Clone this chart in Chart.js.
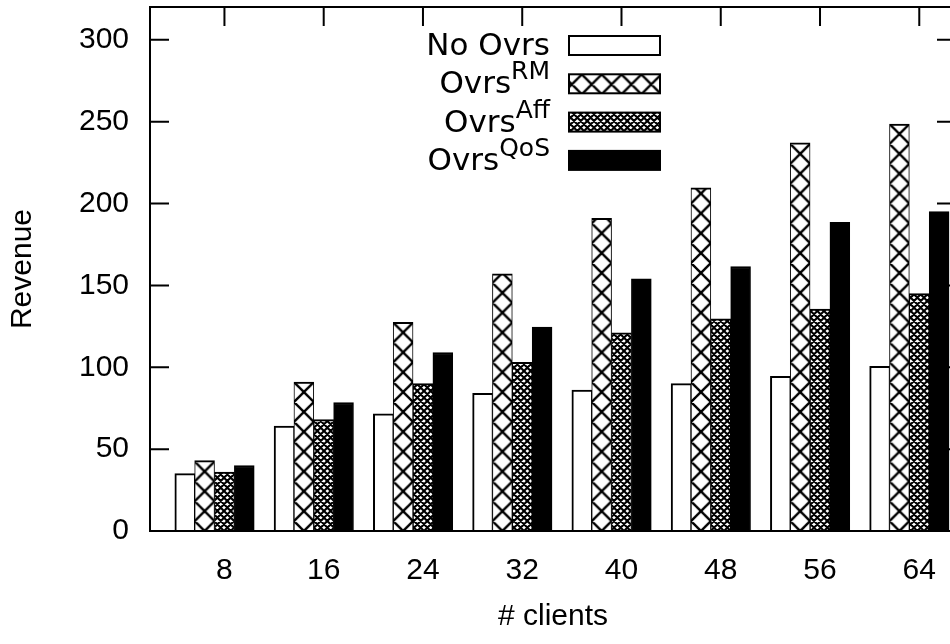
<!DOCTYPE html>
<html>
<head>
<meta charset="utf-8">
<script src="https://cdn.jsdelivr.net/npm/chart.js@4.4.1/dist/chart.umd.min.js"></script>
<style>
  html, body { margin: 0; padding: 0; background: #fff; overflow: hidden; }
  #wrap { width: 960px; height: 644px; }
</style>
</head>
<body>
<div id="wrap"><canvas id="c" width="960" height="644"></canvas></div>
<script>
// Revenue per number of clients, four overbooking strategies
const clients  = ['8', '16', '24', '32', '40', '48', '56', '64'];
const noOvrs   = [35, 64, 71.5, 84, 86, 90, 94.5, 100.5];
const ovrsRM   = [43, 91, 127.5, 157, 191, 209.5, 237, 248.5];
const ovrsAff  = [36, 68, 90, 103, 121, 129.5, 135.5, 145];
const ovrsQoS  = [40, 78.5, 109, 124.5, 154, 161.5, 188.5, 195];
const yTicks   = [0, 50, 100, 150, 200, 250, 300];
const seriesBase = ['No Ovrs', 'Ovrs', 'Ovrs', 'Ovrs'];
const seriesSup  = ['', 'RM', 'Aff', 'QoS'];

const series = [noOvrs, ovrsRM, ovrsAff, ovrsQoS];
// clustered histogram: one slot per bar plus one slot of gap per cluster
const slot = 1 / (series.length + 1);
const anchor = Math.floor(series.length / 2);

// crosshatch tiles (20px square)
const TILE = 20;
function hatch(periods, lw) {
  const c = document.createElement('canvas');
  c.width = TILE; c.height = TILE;
  const g = c.getContext('2d');
  g.fillStyle = '#fff';
  g.fillRect(0, 0, TILE, TILE);
  g.strokeStyle = '#000';
  g.lineWidth = lw;
  const p = TILE / periods;
  g.beginPath();
  for (let k = -2 * periods; k <= 3 * periods; k++) {
    const o = k * p;
    g.moveTo(o - 2 * TILE, -2 * TILE); g.lineTo(o + 2 * TILE, 2 * TILE);
    g.moveTo(o - 2 * TILE, 2 * TILE);  g.lineTo(o + 2 * TILE, -2 * TILE);
  }
  g.stroke();
  return g.createPattern(c, 'repeat');
}
const patRM  = hatch(1, 2.4);
const patAff = hatch(3, 2.1);

const fills = ['#ffffff', patRM, patAff, '#000000'];
const borders = [
  { top: 2, left: 2, right: 1, bottom: 0 },
  { top: 2, left: 1, right: 1, bottom: 0 },
  { top: 2, left: 1, right: 1, bottom: 0 },
  { top: 2, left: 1, right: 1, bottom: 0 }
];

const datasets = series.map((vals, k) => ({
  label: seriesBase[k] + (seriesSup[k] ? '^' + seriesSup[k] : ''),
  data: vals.map((v, i) => ({ x: i + (k - anchor) * slot, y: v })),
  backgroundColor: fills[k],
  borderColor: '#000',
  borderWidth: borders[k],
  grouped: false,
  barPercentage: 1,
  categoryPercentage: 1
}));

const TICK_LEN = 19;

// inward tick marks on all four sides, drawn underneath the bars
const tickMarks = {
  id: 'tickMarks',
  beforeDatasetsDraw(chart) {
    const { ctx, chartArea: a, scales: { x, y } } = chart;
    // the wide hatch follows the bar width; the dense one is only shifted
    const w = x.getPixelForValue(slot) - x.getPixelForValue(0);
    const s = w / TILE;
    patRM.setTransform(new DOMMatrix([s, 0, 0, s, x.getPixelForValue((1 - anchor) * slot), a.bottom]));
    patAff.setTransform(new DOMMatrix([1, 0, 0, 1, Math.round(x.getPixelForValue((2 - anchor) * slot)), Math.round(a.bottom)]));

    ctx.save();
    ctx.strokeStyle = '#000';
    ctx.lineWidth = 2;
    ctx.beginPath();
    y.ticks.forEach(t => {
      const py = y.getPixelForValue(t.value);
      ctx.moveTo(a.left, py);  ctx.lineTo(a.left + TICK_LEN, py);
      ctx.moveTo(a.right, py); ctx.lineTo(a.right - TICK_LEN, py);
    });
    x.ticks.forEach(t => {
      const px = x.getPixelForValue(t.value);
      ctx.moveTo(px, a.top);    ctx.lineTo(px, a.top + TICK_LEN);
      ctx.moveTo(px, a.bottom); ctx.lineTo(px, a.bottom - TICK_LEN);
    });
    ctx.stroke();
    ctx.restore();
  },
  afterDatasetsDraw(chart) {
    const { ctx, chartArea: a } = chart;
    ctx.save();
    ctx.strokeStyle = '#000';
    ctx.lineWidth = 2;
    ctx.strokeRect(a.left, a.top, a.right - a.left, a.bottom - a.top);
    ctx.restore();
  }
};

// key inside the plot, labels right-aligned with superscripts
const keyBox = {
  id: 'keyBox',
  afterDraw(chart) {
    const { ctx, chartArea: a } = chart;
    const right = a.left + 400, base0 = a.top + 48, pitch = 38.3;
    const gap = 19, sw = 91, sh = 19;
    ctx.save();
    ctx.fillStyle = '#000';
    ctx.textBaseline = 'alphabetic';
    ctx.textAlign = 'left';
    chart.data.datasets.forEach((ds, k) => {
      const by = base0 + k * pitch;
      ctx.font = '31px "DejaVu Sans"';
      const wb = ctx.measureText(seriesBase[k]).width;
      ctx.font = '25px "DejaVu Sans"';
      const ws = seriesSup[k] ? ctx.measureText(seriesSup[k]).width : 0;
      const x0 = right - wb - ws;
      ctx.font = '31px "DejaVu Sans"';
      ctx.fillStyle = '#000';
      ctx.fillText(seriesBase[k], x0, by);
      if (seriesSup[k]) {
        ctx.font = '25px "DejaVu Sans"';
        ctx.fillText(seriesSup[k], x0 + wb, by - 14);
      }
      const sx = right + gap, sy = by - sh;
      ctx.fillStyle = ds.backgroundColor;
      ctx.fillRect(sx, sy, sw, sh);
      ctx.strokeStyle = '#000';
      ctx.lineWidth = 2;
      ctx.strokeRect(sx, sy, sw, sh);
    });
    ctx.restore();
  }
};

const tickFont = { family: '"Liberation Sans", Arial, sans-serif', size: 30 };

new Chart(document.getElementById('c'), {
  type: 'bar',
  data: { datasets },
  options: {
    responsive: false,
    animation: false,
    events: [],
    layout: { autoPadding: false, padding: { top: 7, right: 4, left: 0, bottom: 0 } },
    plugins: { legend: { display: false }, tooltip: { enabled: false } },
    scales: {
      x: {
        type: 'linear',
        offset: false,
        min: -0.75,
        max: 7.37,
        bounds: 'data',
        grid: { display: false, drawTicks: false, offset: false },
        border: { display: false },
        afterBuildTicks: axis => { axis.ticks = clients.map((_, i) => ({ value: i })); },
        afterFit: axis => {
          axis.height = 113;
          axis.paddingLeft = 0;
          axis.paddingRight = 0;
        },
        ticks: {
          autoSkip: false,
          maxRotation: 0,
          padding: 22,
          color: '#000',
          font: tickFont,
          callback: v => clients[v]
        },
        title: {
          display: true,
          text: '# clients',
          color: '#000',
          font: tickFont,
          padding: { top: 0, bottom: 9 }
        }
      },
      y: {
        type: 'linear',
        min: 0,
        max: 320,
        bounds: 'data',
        grid: { display: false, drawTicks: false },
        border: { display: false },
        afterBuildTicks: axis => { axis.ticks = yTicks.map(v => ({ value: v })); },
        afterFit: axis => {
          axis.width = 150;
          axis.paddingTop = 0;
          axis.paddingBottom = 0;
        },
        ticks: {
          padding: 21,
          color: '#000',
          font: tickFont
        },
        title: {
          display: true,
          text: 'Revenue',
          color: '#000',
          font: tickFont,
          padding: { top: 5, bottom: 0 }
        }
      }
    }
  },
  plugins: [tickMarks, keyBox]
});
</script>
</body>
</html>
